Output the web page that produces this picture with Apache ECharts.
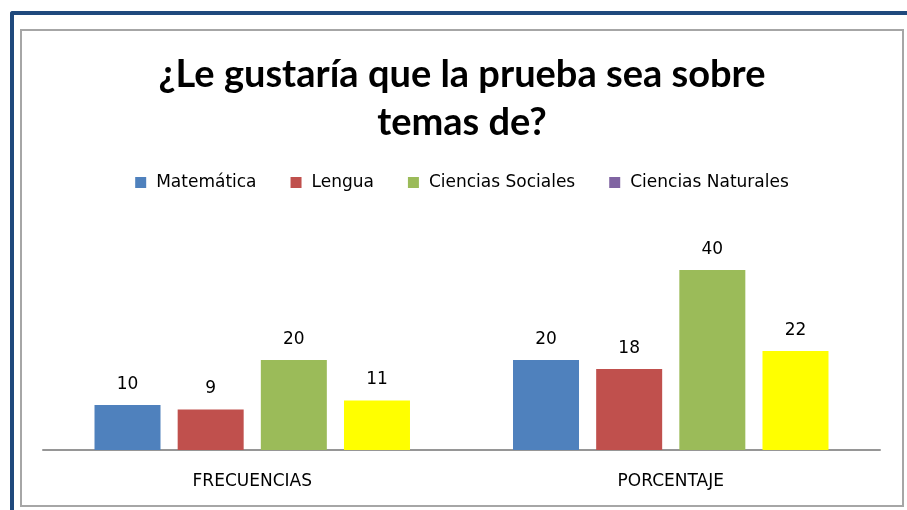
<!DOCTYPE html>
<html>
<head>
<meta charset="utf-8">
<script src="https://cdn.jsdelivr.net/npm/echarts@6/dist/echarts.min.js"></script>
<style>
  html, body { margin: 0; padding: 0; background: #fff; overflow: hidden; }
  .page { position: relative; width: 907px; height: 510px; overflow: hidden; }
  .outer {
    position: absolute; left: 10px; top: 11px; width: 920px; height: 520px;
    border-left: 4px solid #1F497D; border-top: 4px solid #1F497D;
    border-top-left-radius: 3px;
  }
  .inner {
    position: absolute; left: 20px; top: 29px; width: 884px; height: 478px;
    box-sizing: border-box; border: 2px solid #a6a6a6;
  }
  #chart { position: absolute; left: 22px; top: 31px; width: 880px; height: 474px; }
</style>
</head>
<body>
<div class="page">
  <div class="outer"></div>
  <div class="inner"></div>
  <div id="chart"></div>
</div>
<script>
// datos
var categories = ['FRECUENCIAS', 'PORCENTAJE'];
var seriesNames = ['Matemática', 'Lengua', 'Ciencias Sociales', 'Ciencias Naturales'];
var matematica = [10, 20];
var lengua = [9, 18];
var cienciasSociales = [20, 40];
var cienciasNaturales = [11, 22];

var barColors = ['#4F81BD', '#C0504D', '#9BBB59', '#FFFF00'];
// la leyenda muestra morado para la ultima serie aunque la barra es amarilla
var legendColors = ['#4F81BD', '#C0504D', '#9BBB59', '#8064A2'];

var txtFont = 'DejaVu Sans';

var myChart = echarts.init(document.getElementById('chart'));

function makeSeries(name, values, color) {
  return {
    name: name,
    type: 'bar',
    data: values,
    barWidth: 66,
    barGap: '26%',
    itemStyle: { color: color },
    label: {
      show: true,
      position: 'top',
      distance: 12,
      color: '#000',
      fontFamily: txtFont,
      fontSize: 17,
    },
  };
}

var option = {
  animation: false,
  title: {
    text: '¿Le gustaría que la prueba sea sobre\ntemas de?',
    left: 'center',
    top: 15,
    textStyle: {
      fontFamily: 'Lato',
      fontWeight: 'bold',
      fontSize: 38,
      lineHeight: 48,
      color: '#000',
    },
  },
  legend: {
    top: 138,
    left: 'center',
    icon: 'rect',
    itemWidth: 11,
    itemHeight: 11,
    itemGap: 34,
    data: seriesNames.map(function (n, i) {
      return { name: n, itemStyle: { color: legendColors[i] } };
    }),
    textStyle: {
      fontFamily: txtFont,
      fontSize: 17,
      color: '#000',
      padding: [0, 0, 0, 5],
    },
  },
  grid: {
    left: 21,
    right: 22,
    top: 194,
    bottom: 55,
    containLabel: false,
  },
  xAxis: {
    type: 'category',
    data: categories,
    axisTick: { show: false },
    axisLine: { lineStyle: { color: '#969696', width: 2 } },
    axisLabel: {
      fontFamily: txtFont,
      fontSize: 17,
      color: '#000',
      margin: 23,
    },
  },
  yAxis: {
    type: 'value',
    min: 0,
    max: 50,
    show: false,
    splitLine: { show: false },
  },
  series: [
    makeSeries(seriesNames[0], matematica, barColors[0]),
    makeSeries(seriesNames[1], lengua, barColors[1]),
    makeSeries(seriesNames[2], cienciasSociales, barColors[2]),
    makeSeries(seriesNames[3], cienciasNaturales, barColors[3]),
  ],
};

myChart.setOption(option);
</script>
</body>
</html>
